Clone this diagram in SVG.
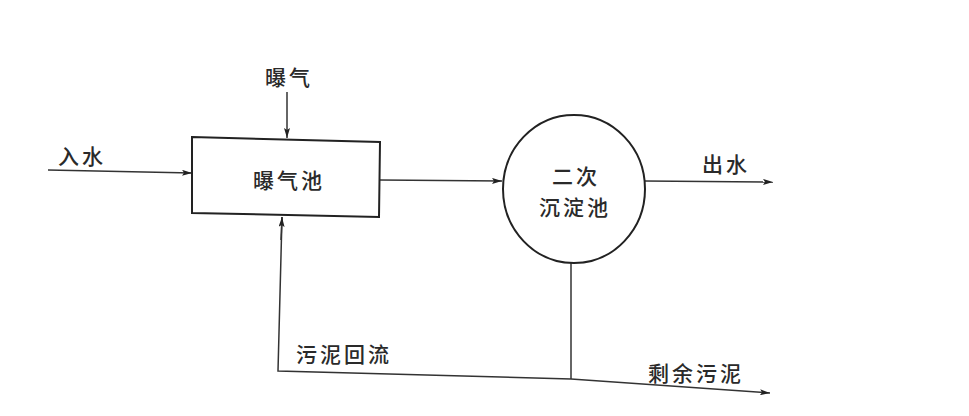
<svg xmlns="http://www.w3.org/2000/svg" width="969" height="416" viewBox="0 0 969 416">
<defs>
<style>
.ln{fill:none;stroke:#333;stroke-width:1.5}
.nd{fill:#fff;stroke:#222;stroke-width:2}
.tx{font-family:"Noto Sans CJK SC","Noto Sans",sans-serif;font-size:21px;font-weight:500;letter-spacing:3px;fill:#2a2a2a;text-anchor:middle;dominant-baseline:central}
</style>
<marker id="ah" viewBox="0 0 10 6" refX="10" refY="3" markerWidth="10" markerHeight="6" markerUnits="userSpaceOnUse" orient="auto">
<path d="M0,0 L10,3 L0,6 L2,3 Z" fill="#222"/>
</marker>
</defs>
<rect width="969" height="416" fill="#fff"/>
<g id="connectors">
<line class="ln" x1="287" y1="92" x2="287" y2="138" marker-end="url(#ah)"/>
<line class="ln" x1="48" y1="170" x2="192" y2="173" marker-end="url(#ah)"/>
<line class="ln" x1="380" y1="180" x2="502" y2="181" marker-end="url(#ah)"/>
<line class="ln" x1="645" y1="181" x2="773" y2="182" marker-end="url(#ah)"/>
<line class="ln" x1="571" y1="263" x2="571" y2="379"/>
<polyline class="ln" points="282,217 278,371 571,379"/>
<line class="ln" x1="281" y1="240" x2="282" y2="217" marker-end="url(#ah)"/>
<line class="ln" x1="571" y1="379" x2="770" y2="393" marker-end="url(#ah)"/>
</g>
<g id="aeration-tank">
<polygon class="nd" points="192,137 380,142 379,217 192,213"/>
<text class="tx" x="289" y="179">曝气池</text>
</g>
<g id="clarifier">
<ellipse class="nd" cx="574" cy="189" rx="71" ry="74"/>
<text class="tx" x="576" y="175">二次</text>
<text class="tx" x="575" y="206">沉淀池</text>
</g>
<g id="labels">
<text class="tx" x="289" y="76">曝气</text>
<text class="tx" x="82" y="155">入水</text>
<text class="tx" x="726" y="163">出水</text>
<text class="tx" x="344" y="353">污泥回流</text>
<text class="tx" x="696" y="372">剩余污泥</text>
</g>
</svg>
